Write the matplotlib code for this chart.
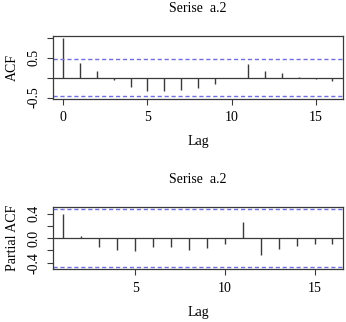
import numpy as np
import matplotlib
matplotlib.use('Agg')
import matplotlib.pyplot as plt

# values
acf_lags = np.arange(0, 17)
acf_vals = [1.0, 0.38, 0.17, -0.05, -0.24, -0.34, -0.34, -0.30, -0.25,
            -0.15, 0.0, 0.34, 0.16, 0.13, 0.03, -0.03, -0.09]
pacf_lags = np.arange(1, 17)
pacf_vals = [0.39, 0.04, -0.15, -0.19, -0.21, -0.15, -0.14, -0.19, -0.165,
             -0.09, 0.26, -0.27, -0.17, -0.13, -0.09, -0.10]
conf_limit = 0.47
series_title = 'Serise  a.2'

plt.rcParams['font.family'] = ['Liberation Serif', 'DejaVu Serif']
fs = 10
frame_col = '#3a3a3a'
bar_col = '#3a3a3a'
ci_col = '#6f6fe0'


def r_style_panel(ax, lags, vals, ylabel, yticks, ylabels, xticks):
    ax.vlines(lags, 0, vals, color=bar_col, lw=1.0)
    ax.axhline(0, color=frame_col, lw=0.9)
    ax.axhline(conf_limit, color=ci_col, lw=1.0, ls=(0, (3, 2)))
    ax.axhline(-conf_limit, color=ci_col, lw=1.0, ls=(0, (3, 2)))
    # R-style 4% padding of axis ranges
    lo = min(min(vals), -conf_limit)
    hi = max(max(vals), conf_limit)
    pad = 0.04 * (hi - lo)
    ax.set_ylim(lo - pad, hi + pad)
    xpad = 0.04 * (lags[-1] - lags[0])
    ax.set_xlim(lags[0] - xpad, lags[-1] + xpad)
    ax.set_yticks(yticks)
    ax.set_yticklabels(ylabels, rotation=90, va='center', fontsize=fs)
    ax.set_xticks(xticks)
    ax.set_xticklabels([str(t) for t in xticks], fontsize=fs)
    ax.tick_params(direction='out', length=4, width=0.8, color=frame_col,
                   pad=5)
    for s in ax.spines.values():
        s.set_color(frame_col)
        s.set_linewidth(0.9)
    ax.set_title(series_title, fontsize=fs, pad=17)
    ax.set_xlabel('Lag', fontsize=fs, labelpad=8)
    ax.set_ylabel(ylabel, fontsize=fs, labelpad=6)


fig = plt.figure(figsize=(3.46, 3.22), dpi=100)
ax1 = fig.add_axes([0.152, 0.6935, 0.840, 0.1957])
ax2 = fig.add_axes([0.152, 0.1637, 0.840, 0.1935])

r_style_panel(ax1, acf_lags, acf_vals, 'ACF',
              [-0.5, 0.0, 0.5, 1.0], ['-0.5', '', '0.5', ''], [0, 5, 10, 15])
r_style_panel(ax2, pacf_lags, pacf_vals, 'Partial ACF',
              [-0.4, -0.2, 0.0, 0.2, 0.4], ['-0.4', '', '0.0', '', '0.4'],
              [5, 10, 15])

fig.savefig('out.png', dpi=100)
